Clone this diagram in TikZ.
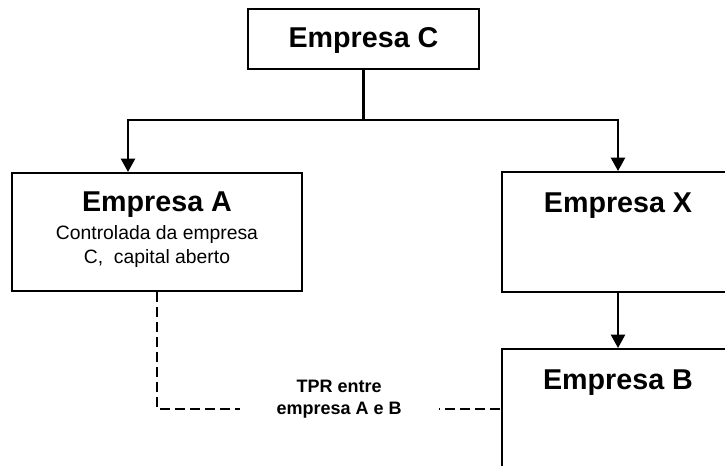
\documentclass[tikz,border=0pt]{standalone}
\usepackage{fontspec}
\setmainfont{Liberation Sans}
\usetikzlibrary{arrows.meta}
\newcommand{\empfont}{\fontsize{21.5}{18}\selectfont\bfseries}
\newcommand{\descfont}{\normalfont\fontsize{14.5}{18}\selectfont}
\newcommand{\tprfont}{\fontsize{13.5}{16.5}\selectfont\bfseries}
\tikzset{
  empbox/.style  = {draw,line width=1.8pt,inner sep=0pt,anchor=north,align=center,font=\empfont},
  arr/.style     = {-{Triangle[length=10pt,width=10.5pt]},line width=1.8pt},
  tprline/.style = {line width=1.8pt,dash pattern=on 7.5pt off 3.75pt}
}
\begin{document}
\begin{tikzpicture}[x=0.75pt,y=-0.75pt]
  \clip (0,0) rectangle (725,465);
  \node[empbox,minimum width=173.25pt,text height=28.5pt,text depth=16.5pt] (C) at (363.5,8) {Empresa C};
  \node[empbox,minimum width=217.5pt,text height=67.5pt,text depth=21pt] (A) at (157,172)
    {Empresa A\\[3pt]\descfont Controlada da empresa\\\descfont C,\ \ capital aberto};
  \node[empbox,minimum width=174pt,text height=30pt,text depth=60pt] (X) at (618,171) {Empresa X};
  \node[empbox,minimum width=174pt,text height=30pt,text depth=60pt] (B) at (618,348) {Empresa B};
  \coordinate (split) at (363.5,120);
  \draw[line width=1.8pt] (C.south) -- (split);
  \draw[arr] (split) -| ([xshift=-21.75pt]A.north);
  \draw[arr] (split) -| (X.north);
  \draw[arr] (X.south) -- (B.north);
  \draw[tprline] (A.south) |- (B.west)
    node[pos=0.765,fill=white,minimum width=149pt,inner ysep=1pt,yshift=7.5pt,align=center,font=\tprfont] (tpr)
    {TPR entre\\empresa A e B};
\end{tikzpicture}
\end{document}
